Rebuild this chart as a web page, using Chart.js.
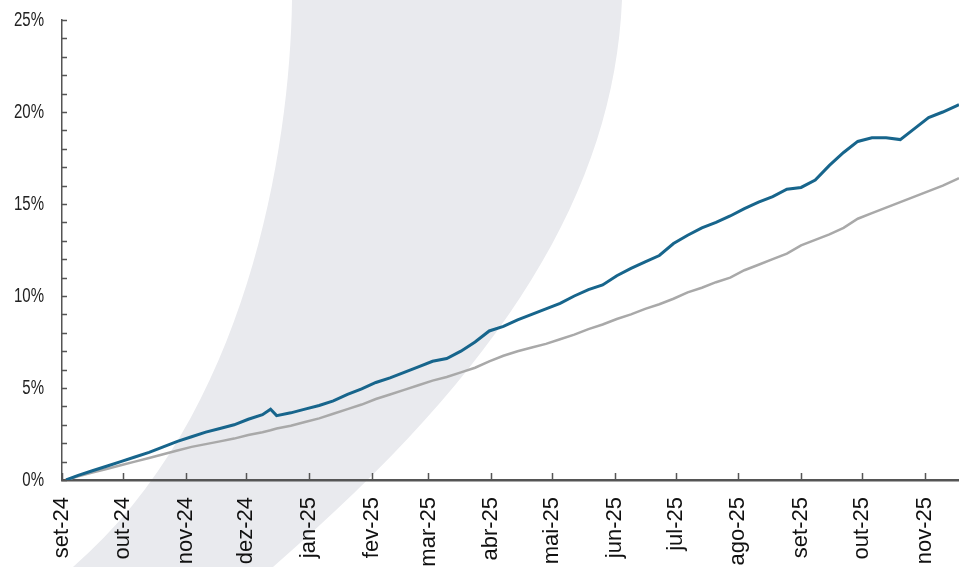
<!DOCTYPE html>
<html>
<head>
<meta charset="utf-8">
<script src="https://cdn.jsdelivr.net/npm/chart.js@4/dist/chart.umd.min.js"></script>
<style>
  html, body { margin: 0; padding: 0; background: #fff; }
  #wrap { width: 959px; height: 567px; position: relative; }
</style>
</head>
<body>
<div id="wrap"><canvas id="grafico"></canvas></div>
<script>
// Datas (amostra semanal) e séries, em %
const datas = [
  '2024-09-03','2024-09-09','2024-09-16','2024-09-23','2024-09-30',
  '2024-10-07','2024-10-14','2024-10-21','2024-10-28',
  '2024-11-04','2024-11-11','2024-11-18','2024-11-25',
  '2024-12-02','2024-12-09','2024-12-13','2024-12-16','2024-12-23','2024-12-30',
  '2025-01-06','2025-01-13','2025-01-20','2025-01-27',
  '2025-02-03','2025-02-10','2025-02-17','2025-02-24',
  '2025-03-03','2025-03-10','2025-03-17','2025-03-24','2025-03-31',
  '2025-04-07','2025-04-14','2025-04-21','2025-04-28',
  '2025-05-05','2025-05-12','2025-05-19','2025-05-26',
  '2025-06-02','2025-06-09','2025-06-16','2025-06-23','2025-06-30',
  '2025-07-07','2025-07-14','2025-07-21','2025-07-28',
  '2025-08-04','2025-08-11','2025-08-18','2025-08-25',
  '2025-09-01','2025-09-08','2025-09-15','2025-09-22','2025-09-29',
  '2025-10-06','2025-10-13','2025-10-20','2025-10-27',
  '2025-11-03','2025-11-10','2025-11-17','2025-11-18'
];

const serieAzul = [
  0.0, 0.25, 0.5, 0.75, 1.0,
  1.25, 1.5, 1.8, 2.1,
  2.35, 2.6, 2.8, 3.0,
  3.3, 3.55, 3.85, 3.5, 3.65, 3.85,
  4.05, 4.3, 4.65, 4.95,
  5.3, 5.55, 5.85, 6.15,
  6.45, 6.6, 7.0, 7.5, 8.1,
  8.35, 8.7, 9.0, 9.3,
  9.6, 10.0, 10.35, 10.6,
  11.1, 11.5, 11.85, 12.2, 12.85,
  13.3, 13.7, 14.0, 14.35,
  14.75, 15.1, 15.4, 15.8,
  15.9, 16.3, 17.1, 17.8, 18.4,
  18.6, 18.6, 18.5, 19.1,
  19.7, 20.0, 20.35, 20.4
];

const serieCinza = [
  0.0, 0.2, 0.4, 0.6, 0.8,
  1.0, 1.2, 1.4, 1.6,
  1.8, 1.95, 2.1, 2.25,
  2.45, 2.6, 2.7, 2.8, 2.95, 3.15,
  3.35, 3.6, 3.85, 4.1,
  4.4, 4.65, 4.9, 5.15,
  5.4, 5.6, 5.85, 6.1, 6.45,
  6.75, 7.0, 7.2, 7.4,
  7.65, 7.9, 8.2, 8.45,
  8.75, 9.0, 9.3, 9.55, 9.85,
  10.2, 10.45, 10.75, 11.0,
  11.4, 11.7, 12.0, 12.3,
  12.75, 13.05, 13.35, 13.7, 14.2,
  14.5, 14.8, 15.1, 15.4,
  15.7, 16.0, 16.35, 16.4
];

// Rótulos do eixo X (início de cada mês)
const meses = ['set-24','out-24','nov-24','dez-24','jan-25','fev-25','mar-25','abr-25',
               'mai-25','jun-25','jul-25','ago-25','set-25','out-25','nov-25'];
const iniciosMes = ['2024-09-01','2024-10-01','2024-11-01','2024-12-01','2025-01-01','2025-02-01',
                    '2025-03-01','2025-04-01','2025-05-01','2025-06-01','2025-07-01','2025-08-01',
                    '2025-09-01','2025-10-01','2025-11-01'];
const ticksY = [0, 5, 10, 15, 20, 25];

const base = Date.UTC(2024, 8, 1);
function dia(s) {
  const p = s.split('-').map(Number);
  return Math.round((Date.UTC(p[0], p[1] - 1, p[2]) - base) / 86400000);
}
const posMeses = iniciosMes.map(dia);
const pontosAzul = datas.map((d, i) => ({ x: dia(d), y: serieAzul[i] }));
const pontosCinza = datas.map((d, i) => ({ x: dia(d), y: serieCinza[i] }));

// Meia-lua cinza ao fundo (marca d'água)
const fundo = {
  id: 'fundo',
  beforeDraw(chart) {
    const c = chart.ctx;
    c.save();
    c.fillStyle = '#e9eaee';
    c.beginPath();
    c.moveTo(292, 0);
    c.bezierCurveTo(290, 150, 247, 417, 73, 567);
    c.lineTo(273, 567);
    c.bezierCurveTo(505, 367, 614, 190, 622, 0);
    c.closePath();
    c.fill();
    c.restore();
  }
};

// Marcas dos eixos voltadas para dentro + rótulos do eixo Y em fonte estreita
const marcas = {
  id: 'marcas',
  afterDraw(chart) {
    const c = chart.ctx;
    const x = chart.scales.x, y = chart.scales.y;
    c.save();
    c.strokeStyle = '#555';
    c.lineWidth = 1.5;
    c.beginPath();
    for (let v = 0; v <= 25; v++) {
      const py = Math.round(y.getPixelForValue(v)) + 0.5;
      c.moveTo(x.left, py);
      c.lineTo(x.left + 5, py);
    }
    posMeses.forEach(v => {
      const px = Math.round(x.getPixelForValue(v)) + 0.5;
      c.moveTo(px, y.bottom);
      c.lineTo(px, y.bottom - 7);
    });
    c.stroke();

    c.fillStyle = '#222';
    c.font = '20px "Liberation Sans", Arial, sans-serif';
    c.textAlign = 'right';
    c.textBaseline = 'middle';
    ticksY.forEach(v => {
      c.save();
      c.translate(44, y.getPixelForValue(v));
      c.scale(0.75, 1);
      c.fillText(v + '%', 0, 0);
      c.restore();
    });
    c.restore();
  }
};

const ctx = document.getElementById('grafico').getContext('2d');
const grafico = new Chart(ctx, {
  type: 'line',
  data: {
    datasets: [
      {
        data: pontosAzul,
        borderColor: '#17658c',
        borderWidth: 3,
        pointRadius: 0,
        tension: 0
      },
      {
        data: pontosCinza,
        borderColor: '#a9a9a9',
        borderWidth: 2.5,
        pointRadius: 0,
        tension: 0
      }
    ]
  },
  options: {
    responsive: true,
    maintainAspectRatio: false,
    animation: false,
    layout: { padding: { top: 20, left: 0, right: 0, bottom: 0 } },
    plugins: { legend: { display: false }, tooltip: { enabled: false } },
    scales: {
      x: {
        type: 'linear',
        min: 0,
        max: 443,
        afterFit: s => { s.height = 87; s.paddingLeft = 0; s.paddingRight = 0; },
        afterBuildTicks: s => { s.ticks = posMeses.map(v => ({ value: v })); },
        grid: { display: false, drawTicks: false },
        border: { display: true, color: '#555', width: 2.5 },
        ticks: {
          autoSkip: false,
          minRotation: 90,
          maxRotation: 90,
          padding: 17,
          color: '#111',
          font: { family: '"Liberation Sans", Arial, sans-serif', size: 22 },
          callback: v => meses[posMeses.indexOf(v)]
        }
      },
      y: {
        min: 0,
        max: 25,
        afterFit: s => { s.width = 62; s.paddingTop = 0; s.paddingBottom = 0; },
        afterBuildTicks: s => { s.ticks = ticksY.map(v => ({ value: v })); },
        grid: { display: false, drawTicks: false },
        border: { display: true, color: '#555', width: 1.5 },
        ticks: { display: false }
      }
    }
  },
  plugins: [fundo, marcas]
});
</script>
</body>
</html>
